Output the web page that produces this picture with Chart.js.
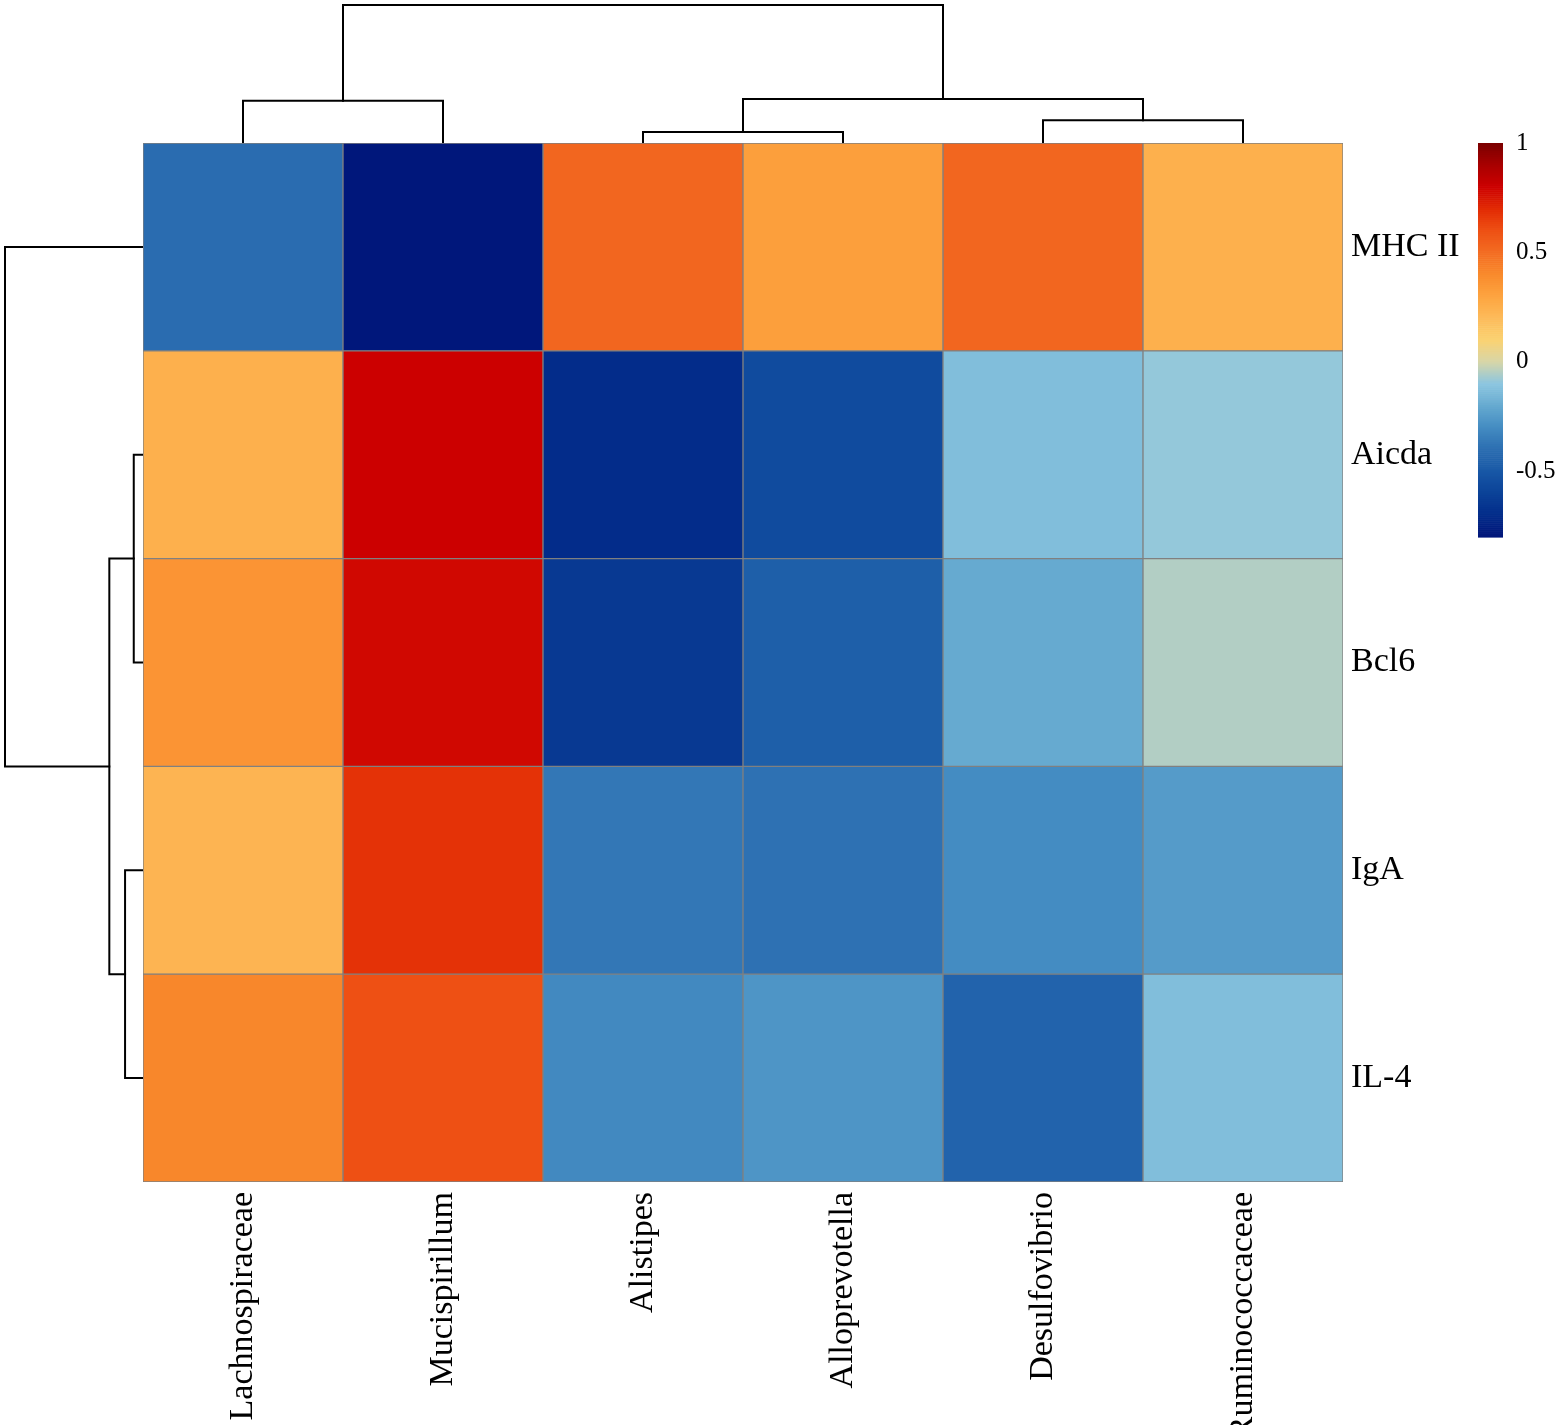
<!DOCTYPE html>
<html>
<head>
<meta charset="utf-8">
<script src="https://cdn.jsdelivr.net/npm/chart.js@4.4.1/dist/chart.umd.min.js"></script>
<style>
  html, body { margin: 0; padding: 0; background: #fff; }
  #wrap { width: 1559px; height: 1425px; position: relative; }
</style>
</head>
<body>
<div id="wrap"><canvas id="heat"></canvas></div>
<script>
const genera = ["Lachnospiraceae", "Mucispirillum", "Alistipes", "Alloprevotella", "Desulfovibrio", "Ruminococcaceae"];
const markers = ["MHC II", "Aicda", "Bcl6", "IgA", "IL-4"];

// correlation per marker, columns in genera order
const mhc2  = [-0.41, -0.79,  0.52,  0.32,  0.52,  0.25];
const aicda = [ 0.25,  0.80, -0.70, -0.56, -0.13, -0.09];
const bcl6  = [ 0.36,  0.78, -0.64, -0.47, -0.20, -0.05];
const iga   = [ 0.23,  0.68, -0.37, -0.39, -0.30, -0.25];
const il4   = [ 0.41,  0.60, -0.31, -0.27, -0.45, -0.13];
const rows = [mhc2, aicda, bcl6, iga, il4];

// hclust style merges: negative = leaf (1-based), positive = earlier merge
const colMerge = [[-3, -4], [-5, -6], [-1, -2], [1, 2], [3, 4]];
const colHeight = [0.08, 0.165, 0.307, 0.319, 1.0];
const rowMerge = [[-2, -3], [-4, -5], [1, 2], [-1, 3]];
const rowHeight = [0.067, 0.13, 0.244, 1.0];

const legendTicks = [1, 0.5, 0, -0.5];
const legendMin = -0.8;
const legendMax = 1;

const paletteVals = [-0.8, -0.7, -0.6, -0.5, -0.4, -0.3, -0.2, -0.1, 0, 0.1, 0.2, 0.3, 0.4, 0.5, 0.6, 0.7, 0.8, 0.9, 1.0];
const paletteCols = ["#001579", "#032C8A", "#0B4298", "#1858A6", "#2C6EB1", "#448CC2", "#66AAD0", "#8CC6E0", "#D8D6A8",
                     "#FBD272", "#FDBB5A", "#FDA440", "#F98A2C", "#F36C22", "#EE5014", "#E22A04", "#CC0000", "#A80000", "#7A0000"];

function hexRgb(h) {
  return [parseInt(h.slice(1, 3), 16), parseInt(h.slice(3, 5), 16), parseInt(h.slice(5, 7), 16)];
}

function colorFor(v) {
  if (v <= paletteVals[0]) return paletteCols[0];
  for (let i = 1; i < paletteVals.length; i++) {
    if (v <= paletteVals[i]) {
      const t = (v - paletteVals[i - 1]) / (paletteVals[i] - paletteVals[i - 1]);
      const a = hexRgb(paletteCols[i - 1]), b = hexRgb(paletteCols[i]);
      const c = a.map((x, k) => Math.round(x + (b[k] - x) * t));
      return `rgb(${c[0]},${c[1]},${c[2]})`;
    }
  }
  return paletteCols[paletteCols.length - 1];
}

// turn merges into U-shaped links (position along leaves, height)
function dendroLinks(merge, height) {
  const pos = [], links = [];
  merge.forEach((m, i) => {
    const ends = m.map(c => c < 0 ? [-c - 1, 0] : [pos[c - 1], height[c - 1]]);
    pos[i] = (ends[0][0] + ends[1][0]) / 2;
    links.push([
      [ends[0][0], ends[0][1]], [ends[0][0], height[i]],
      [ends[1][0], height[i]], [ends[1][0], ends[1][1]]
    ]);
  });
  return links;
}

const lineStyle = {
  type: 'scatter', showLine: true, clip: false, pointRadius: 0,
  borderColor: '#000', borderWidth: 2, borderJoinStyle: 'miter', borderCapStyle: 'square'
};

// bottom row first so stacking puts MHC II on top
const cellSets = rows.slice().reverse().map((r, k) => ({
  type: 'bar',
  label: markers[markers.length - 1 - k],
  data: r.map(() => 1),
  backgroundColor: r.map(colorFor),
  borderColor: '#808080',
  borderWidth: 1,
  borderSkipped: false,
  barPercentage: 1,
  categoryPercentage: 1,
  grouped: false,
  stack: 'cells',
  xAxisID: 'x',
  yAxisID: 'y'
}));

const topTree = dendroLinks(colMerge, colHeight).map(l => Object.assign({
  data: l.map(p => ({ x: p[0], y: p[1] })), xAxisID: 'xd', yAxisID: 'yt'
}, lineStyle));

const leftTree = dendroLinks(rowMerge, rowHeight).map(l => Object.assign({
  data: l.map(p => ({ x: p[1], y: p[0] })), xAxisID: 'xl', yAxisID: 'yr'
}, lineStyle));

const colorBar = {
  id: 'colorBar',
  afterDraw(chart) {
    const ctx = chart.ctx, area = chart.chartArea;
    const x = area.right + 135, w = 25, top = area.top, h = 394;
    const toY = v => top + (legendMax - v) / (legendMax - legendMin) * h;
    const steps = 200;
    ctx.save();
    for (let i = 0; i < steps; i++) {
      const v0 = legendMax - (legendMax - legendMin) * i / steps;
      const v1 = legendMax - (legendMax - legendMin) * (i + 1) / steps;
      ctx.fillStyle = colorFor((v0 + v1) / 2);
      ctx.fillRect(x, toY(v0), w, toY(v1) - toY(v0) + 0.6);
    }
    ctx.fillStyle = '#000';
    ctx.font = '25px "Liberation Serif"';
    ctx.textAlign = 'left';
    ctx.textBaseline = 'middle';
    legendTicks.forEach(t => ctx.fillText(String(t), x + 38, toY(t)));
    ctx.restore();
  }
};

Chart.defaults.font.family = '"Liberation Serif", "Times New Roman", serif';
Chart.defaults.color = '#000';

new Chart(document.getElementById('heat'), {
  type: 'bar',
  data: {
    labels: genera,
    datasets: [...cellSets, ...topTree, ...leftTree]
  },
  options: {
    responsive: true,
    maintainAspectRatio: false,
    devicePixelRatio: 1,
    animation: false,
    layout: { padding: { top: 143, left: 143, right: 0, bottom: 0 } },
    plugins: { legend: { display: false }, tooltip: { enabled: false } },
    scales: {
      x: {
        type: 'category',
        stacked: true,
        offset: true,
        grid: { display: false, drawTicks: false },
        border: { display: false },
        ticks: { autoSkip: false, minRotation: 90, maxRotation: 90, padding: 10, font: { size: 34 } },
        afterFit: s => { s.height = 243; }
      },
      y: { type: 'linear', stacked: true, display: false, min: 0, max: 5 },
      yl: {
        type: 'category',
        position: 'right',
        labels: markers,
        offset: true,
        grid: { display: false, drawTicks: false },
        border: { display: false },
        ticks: { padding: 8, font: { size: 34 } },
        afterFit: s => { s.width = 216; }
      },
      xd: { type: 'linear', display: false, offset: false, min: -0.5, max: 5.5 },
      yt: { type: 'linear', display: false, offset: false, beginAtZero: false, min: -1039 / 138, max: 0 },
      xl: { type: 'linear', display: false, offset: false, beginAtZero: false, reverse: true, min: -1200 / 138, max: 0 },
      yr: { type: 'linear', display: false, offset: false, beginAtZero: false, reverse: true, min: -0.5, max: 4.5 }
    }
  },
  plugins: [colorBar]
});
</script>
</body>
</html>
